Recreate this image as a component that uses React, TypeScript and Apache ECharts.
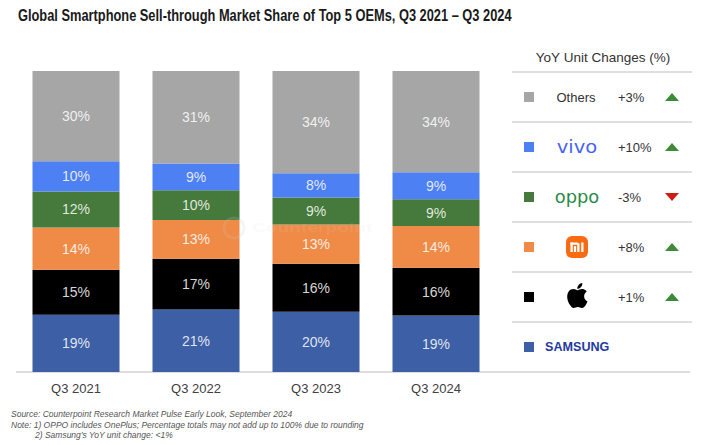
import React, { useEffect, useRef } from "react";
import * as echarts from "echarts";

const categories = ["Q3 2021", "Q3 2022", "Q3 2023", "Q3 2024"];
const samsung = [19, 21, 20, 19];
const apple = [15, 17, 16, 16];
const xiaomi = [14, 13, 13, 14];
const oppo = [12, 10, 9, 9];
const vivo = [10, 9, 8, 9];
const others = [30, 31, 34, 34];

const seriesNames = ["Samsung", "Apple", "Xiaomi", "OPPO", "vivo", "Others"];
const seriesColors = ["#3d5fa6", "#000000", "#ef8b47", "#457a3c", "#4d80f2", "#a6a6a6"];
const shares = [samsung, apple, xiaomi, oppo, vivo, others];

// legend panel rows (top to bottom) and YoY unit changes
const legendKeys = ["Others", "vivo", "OPPO", "Xiaomi", "Apple", "Samsung"];
const yoyChanges = ["+3%", "+10%", "-3%", "+8%", "+1%", ""];

const titleText = "Global Smartphone Sell-through Market Share of Top 5 OEMs, Q3 2021 \u2013 Q3 2024";
const footerLines = [
  "Source: Counterpoint Research Market Pulse Early Look, September 2024",
  "Note: 1) OPPO includes OnePlus; Percentage totals may not add up to 100% due to rounding",
  "2) Samsung\u2019s YoY unit change: <1%",
];

const APPLE_D =
  "M18.71 19.5c-.83 1.24-1.710 2.45-3.05 2.47-1.34.03-1.77-.79-3.29-.79-1.53 0-2 .77-3.27.82-1.31.05-2.3-1.32-3.14-2.53C4.25 17 2.94 12.45 4.7 9.39c.87-1.52 2.43-2.48 4.12-2.51 1.28-.02 2.5.87 3.29.87.78 0 2.26-1.07 3.81-.91.65.03 2.47.26 3.64 1.98-.09.06-2.17 1.28-2.15 3.81.03 3.020 2.65 4.030 2.68 4.04-.03.07-.42 1.44-1.38 2.83M13 3.5c.73-.83 1.94-1.46 2.94-1.5.13 1.17-.34 2.35-1.04 3.19-.69.85-1.83 1.51-2.95 1.42-.15-1.15.41-2.35 1.05-3.11z";

let registered = false;
function registerShapes() {
  if (registered) return;
  echarts.graphic.registerShape("appleLogo", echarts.graphic.extendPath(APPLE_D, {}) as any);
  registered = true;
}

const FONT = "'Liberation Sans', Arial, sans-serif";

export default function App() {
  const ref = useRef<HTMLDivElement>(null);

  useEffect(() => {
    if (!ref.current) return;
    registerShapes();
    const chart = echarts.init(ref.current, undefined, { renderer: "svg" });

    const totals = categories.map((_, j) => shares.reduce((s, arr) => s + arr[j], 0));

    const series = shares.map((arr, i) => ({
      name: seriesNames[i],
      type: "bar",
      stack: "share",
      barWidth: 87,
      itemStyle: { color: seriesColors[i] },
      label: {
        show: true,
        position: "inside",
        color: "rgba(255,255,255,0.85)",
        fontSize: 14,
        fontFamily: FONT,
        formatter: (p: any) => shares[p.seriesIndex][p.dataIndex] + "%",
      },
      data: arr.map((v, j) => (v / totals[j]) * 100),
    }));

    const graphics: any[] = [];
    // title
    graphics.push({
      type: "text",
      x: 18,
      y: 15,
      scaleX: 0.755,
      style: {
        text: titleText,
        font: `bold 17px ${FONT}`,
        fill: "#1a1a1a",
        verticalAlign: "middle",
      },
    });
    // header
    graphics.push({
      type: "text",
      x: 603,
      y: 57,
      style: {
        text: "YoY Unit Changes (%)",
        font: `13.5px ${FONT}`,
        fill: "#333",
        align: "center",
        verticalAlign: "middle",
      },
    });
    // separators
    for (let i = 0; i < 6; i++) {
      graphics.push({
        type: "line",
        shape: { x1: 512, y1: 72 + 50 * i, x2: 692, y2: 72 + 50 * i },
        style: { stroke: "#d4d4d4", lineWidth: 1.5 },
      });
    }
    // baseline
    graphics.push({
      type: "line",
      shape: { x1: 16, y1: 372, x2: 690, y2: 372 },
      style: { stroke: "#d0d0d0", lineWidth: 1.5 },
    });

    legendKeys.forEach((key, i) => {
      const cy = 97 + 50 * i;
      const sIdx = seriesNames.indexOf(key);
      graphics.push({
        type: "rect",
        shape: { x: 524, y: cy - 5, width: 10, height: 10 },
        style: { fill: seriesColors[sIdx] },
      });
      if (key === "Others") {
        graphics.push({
          type: "text",
          x: 576,
          y: cy,
          style: { text: "Others", font: `13px ${FONT}`, fill: "#333", align: "center", verticalAlign: "middle" },
        });
      } else if (key === "vivo") {
        graphics.push({
          type: "text",
          x: 577,
          y: cy,
          scaleX: 1.15,
          style: { text: "vivo", font: `17px 'DejaVu Sans'`, fill: "#4763f5", align: "center", verticalAlign: "middle" },
        });
      } else if (key === "OPPO") {
        graphics.push({
          type: "text",
          x: 577,
          y: cy,
          scaleX: 1.05,
          style: { text: "oppo", font: `17px 'DejaVu Sans'`, fill: "#2a8a4a", align: "center", verticalAlign: "middle" },
        });
      } else if (key === "Xiaomi") {
        const bx = 566, by = cy - 11;
        graphics.push({
          type: "rect",
          shape: { x: bx, y: by, width: 22, height: 22, r: 6 },
          style: { fill: "#f96b12" },
        });
        const w = "#ffffff";
        graphics.push({ type: "rect", shape: { x: bx + 4.5, y: by + 6.5, width: 2.3, height: 9.5 }, style: { fill: w } });
        graphics.push({ type: "rect", shape: { x: bx + 4.5, y: by + 6.5, width: 8.5, height: 2.3, r: [0, 2, 0, 0] }, style: { fill: w } });
        graphics.push({ type: "rect", shape: { x: bx + 11.2, y: by + 7.5, width: 2.3, height: 8.5 }, style: { fill: w } });
        graphics.push({ type: "rect", shape: { x: bx + 7.9, y: by + 10.2, width: 2.2, height: 5.8 }, style: { fill: w } });
        graphics.push({ type: "rect", shape: { x: bx + 15.2, y: by + 6.5, width: 2.3, height: 9.5 }, style: { fill: w } });
      } else if (key === "Apple") {
        const s = 1.25;
        graphics.push({
          type: "appleLogo",
          x: 577 - 11.7 * s,
          y: cy - 1.5 - 12 * s,
          scaleX: s,
          scaleY: s,
          style: { fill: "#000" },
        });
      } else if (key === "Samsung") {
        graphics.push({
          type: "text",
          x: 545,
          y: cy,
          scaleX: 1.05,
          style: {
            text: "SAMSUNG",
            font: `900 12px ${FONT}`,
            fill: "#1f3a9e",
            verticalAlign: "middle",
          },
        });
      }
      const ch = yoyChanges[i];
      if (ch) {
        graphics.push({
          type: "text",
          x: 618,
          y: cy,
          style: { text: ch, font: `13px ${FONT}`, fill: "#333", verticalAlign: "middle" },
        });
        const up = ch.startsWith("+");
        const tx = 672;
        graphics.push({
          type: "polygon",
          shape: {
            points: up
              ? [[tx - 7, cy + 4], [tx + 7, cy + 4], [tx, cy - 4]]
              : [[tx - 7, cy - 4], [tx + 7, cy - 4], [tx, cy + 4]],
          },
          style: { fill: up ? "#3e8a3a" : "#cc1f10" },
        });
      }
    });

    // faint watermark
    graphics.push({
      type: "circle",
      z: 100,
      shape: { cx: 234, cy: 228, r: 10 },
      style: { fill: "none", stroke: "rgba(200,200,200,0.18)", lineWidth: 3 },
    });
    graphics.push({
      type: "text",
      z: 100,
      x: 252,
      y: 228,
      scaleX: 1.6,
      style: {
        text: "Counterpoint",
        font: `bold 12px ${FONT}`,
        fill: "rgba(215,215,215,0.12)",
        verticalAlign: "middle",
      },
    });

    // footer
    footerLines.forEach((t, i) => {
      graphics.push({
        type: "text",
        x: i === 2 ? 35 : 11,
        y: 414 + 10.5 * i,
        style: { text: t, font: `italic 8.5px ${FONT}`, fill: "#555", verticalAlign: "middle" },
      });
    });

    chart.setOption({
      animation: false,
      backgroundColor: "#ffffff",
      grid: { left: 16, right: 205, top: 71, bottom: 73, containLabel: false },
      xAxis: {
        type: "category",
        data: categories,
        axisLine: { show: false },
        axisTick: { show: false },
        axisLabel: { color: "#404040", fontSize: 13, fontFamily: FONT, margin: 10 },
      },
      yAxis: { type: "value", min: 0, max: 100, show: false, splitLine: { show: false } },
      series,
      graphic: graphics,
    });

    return () => chart.dispose();
  }, []);

  return (
    <div
      ref={ref}
      style={{ position: "fixed", left: 0, top: 0, width: 701, height: 445, background: "#fff" }}
    />
  );
}
